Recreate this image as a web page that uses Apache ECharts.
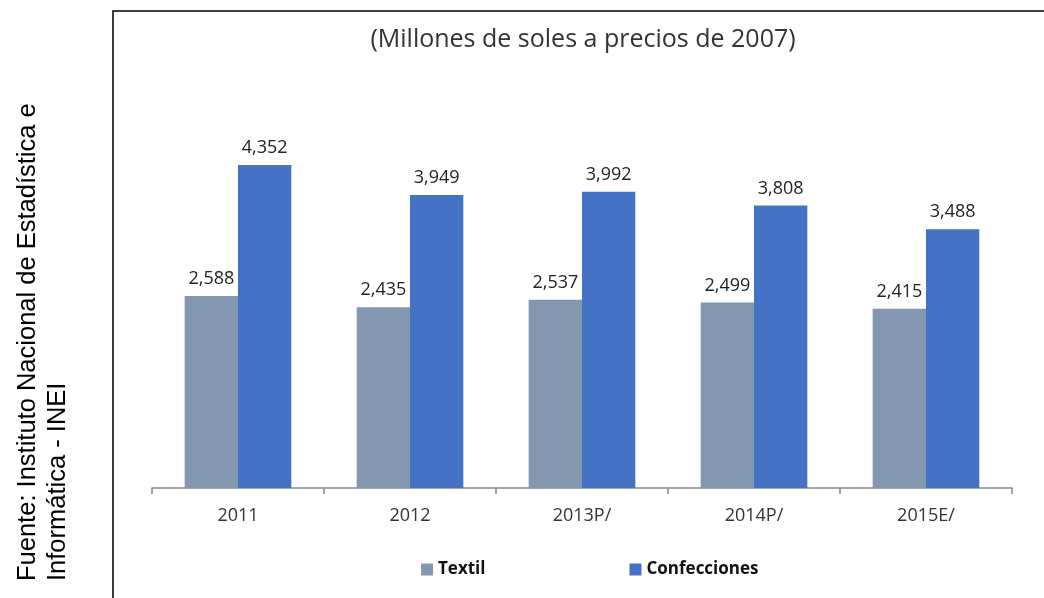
<!DOCTYPE html>
<html><head><meta charset="utf-8">
<script src="https://cdn.jsdelivr.net/npm/echarts@6/dist/echarts.min.js"></script>
<style>html,body{margin:0;padding:0;background:#fff}#c{width:1044px;height:598px}</style>
</head><body><div id="c"></div>
<script>
const categories = ['2011', '2012', '2013P/', '2014P/', '2015E/'];
const textil = [2588, 2435, 2537, 2499, 2415];
const confecciones = [4352, 3949, 3992, 3808, 3488];
const seriesNames = ['Textil', 'Confecciones'];
const subtitle = '(Millones de soles a precios de 2007)';
const sourceLines = ['Fuente: Instituto Nacional de Estadística e', 'Informática - INEI'];

const FONT = '"Open Sans", sans-serif';
const fmt = v => v.toLocaleString('en-US');
const chart = echarts.init(document.getElementById('c'));
chart.setOption({
  animation: false,
  backgroundColor: '#fff',
  title: {
    text: subtitle, left: 578, top: 22, textAlign: 'center',
    textStyle: {fontFamily: FONT, fontSize: 25, fontWeight: 'normal', color: '#333'}
  },
  legend: {
    left: 416, top: 556, itemWidth: 12, itemHeight: 12, itemGap: 144,
    icon: 'rect',
    textStyle: {fontFamily: FONT, fontSize: 17, fontWeight: 'bold', color: '#111'},
    data: seriesNames
  },
  grid: {left: 152, right: 32, top: 117, bottom: 110},
  xAxis: {
    type: 'category', data: categories,
    axisLine: {lineStyle: {color: '#868686', width: 1.5}},
    axisTick: {show: true, length: 6, lineStyle: {color: '#868686', width: 1.5}},
    axisLabel: {fontFamily: FONT, fontSize: 18, color: '#333', margin: 19}
  },
  yAxis: {type: 'value', min: 0, max: 5000, show: false, splitLine: {show: false}},
  series: [
    {name: seriesNames[0], type: 'bar', data: textil, barGap: '0%', barCategoryGap: '38%',
     itemStyle: {color: '#8497B0'},
     label: {show: true, position: 'top', distance: 8, formatter: p => fmt(p.value),
             fontFamily: FONT, fontSize: 18, color: '#222'}},
    {name: seriesNames[1], type: 'bar', data: confecciones,
     itemStyle: {color: '#4472C4'},
     label: {show: true, position: 'top', distance: 8, formatter: p => fmt(p.value),
             fontFamily: FONT, fontSize: 18, color: '#222'}}
  ],
  graphic: [
    {type: 'rect', shape: {x: 113, y: 11, width: 1000, height: 700},
     style: {fill: 'none', stroke: '#000', lineWidth: 1.5}, silent: true},
    {type: 'text', x: 28, y: 581, rotation: Math.PI / 2,
     style: {text: sourceLines[0], font: '25.5px "Liberation Sans", Arial, sans-serif', fill: '#000',
             textAlign: 'left', textVerticalAlign: 'middle'}},
    {type: 'text', x: 58, y: 581, rotation: Math.PI / 2,
     style: {text: sourceLines[1], font: '25.5px "Liberation Sans", Arial, sans-serif', fill: '#000',
             textAlign: 'left', textVerticalAlign: 'middle'}}
  ]
});
</script></body></html>
